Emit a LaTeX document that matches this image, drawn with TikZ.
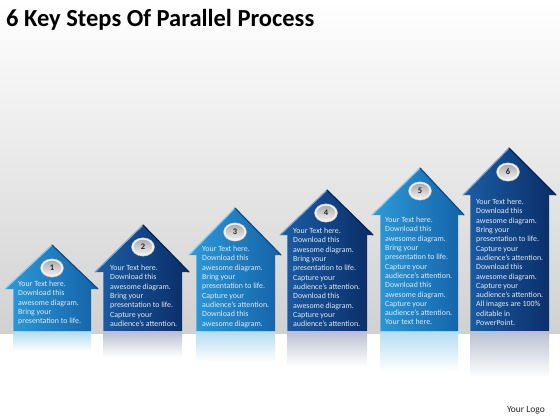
\documentclass[tikz,border=0pt]{standalone}
\usepackage{fontspec}
\setmainfont{Carlito}
\definecolor{lightL}{HTML}{2E9AD8}
\definecolor{lightR}{HTML}{1462A8}
\definecolor{darkL}{HTML}{1C5EA6}
\definecolor{darkR}{HTML}{0A2C66}
\definecolor{txt}{HTML}{E0EAF6}
\definecolor{reflL}{HTML}{B5DDF2}
\definecolor{reflD}{HTML}{BAC1D2}
\tikzset{
  bodytext/.style={anchor=north west, inner sep=0pt, align=left, text=txt, font=\fontsize{7.9}{9.3}\selectfont},
  numtext/.style={font=\bfseries\fontsize{8.5}{8.5}\selectfont, text=black!85, inner sep=0pt},
  roofhi/.style={line width=1.2pt, line cap=round},
}
% bl br px py ey el er leftcolor rightcolor
\newcommand\myhouse[9]{%
  \shade[left color=#8, right color=#9] (#3,#4) -- (#7,#5) -- (#2,#5) -- (#2,331) -- (#1,331) -- (#1,#5) -- (#6,#5) -- cycle;
  \draw[roofhi, white!45!#8] (#6,#5) -- (#3,#4);
  \draw[roofhi, black!25!#9] (#3,#4) -- (#7,#5);
  \draw[line width=0.8pt, white!25!#8] (#1,#5) -- (#1,331);
}
\newcommand\mybutton[3]{%
  \fill[white!88!gray, draw=gray!55, line width=0.4pt] (#1,#2) ellipse (11.5 and 9.2);
  \shade[top color=gray!65, bottom color=gray!12] (#1,#2) ellipse (9.3 and 7.3);
  \node[numtext] (n#3) at (#1,#2) {#3};
}
\begin{document}
\begin{tikzpicture}[x=1pt,y=-1pt]
\useasboundingbox (0,0) rectangle (560,420);
% background
\fill[white] (0,0) rectangle (560,420);
\shade[top color=white, middle color=black!3, bottom color=black!18] (0,0) rectangle (560,333);

% reflections
\shade[top color=reflL, bottom color=white] (13,332) rectangle (91,351);
\shade[top color=reflD, bottom color=white] (103,332) rectangle (182,357);
\shade[top color=reflL, bottom color=white] (196,332) rectangle (275,362);
\shade[top color=reflD, bottom color=white] (287,332) rectangle (367,366);
\shade[top color=reflL, bottom color=white] (380,332) rectangle (458,371);
\shade[top color=reflD, bottom color=white] (470,332) rectangle (549,377);

% houses
\myhouse{13}{91}{52}{245}{289}{5}{98}{lightL}{lightR}
\myhouse{103}{182}{143}{225}{272}{95}{189}{darkL}{darkR}
\myhouse{196}{275}{235}{208}{255}{189}{281}{lightL}{lightR}
\myhouse{287}{367}{327}{190}{235}{280}{373}{darkL}{darkR}
\myhouse{380}{458}{420}{168}{215}{372}{464}{lightL}{lightR}
\myhouse{470}{549}{509}{148}{195}{463}{556}{darkL}{darkR}

% buttons
\mybutton{52}{268}{1}
\mybutton{143}{247}{2}
\mybutton{235}{232}{3}
\mybutton{326}{213}{4}
\mybutton{420}{191}{5}
\mybutton{508}{172}{6}

% texts
\node[bodytext] (t1) at (18,281) {Your Text here.\\Download this\\awesome diagram.\\Bring your\\presentation to life.};
\node[bodytext] (t2) at (110,265) {Your Text here.\\Download this\\awesome diagram.\\Bring your\\presentation to life.\\Capture your\\audience’s attention.};
\node[bodytext] (t3) at (202,246) {Your Text here.\\Download this\\awesome diagram.\\Bring your\\presentation to life.\\Capture your\\audience’s attention.\\Download this\\awesome diagram.};
\node[bodytext] (t4) at (293,228) {Your Text here.\\Download this\\awesome diagram.\\Bring your\\presentation to life.\\Capture your\\audience’s attention.\\Download this\\awesome diagram.\\Capture your\\audience’s attention.};
\node[bodytext] (t5) at (385,217) {Your Text here.\\Download this\\awesome diagram.\\Bring your\\presentation to life.\\Capture your\\audience’s attention.\\Download this\\awesome diagram.\\Capture your\\audience’s attention.\\Your text here.};
\node[bodytext] (t6) at (476,199) {Your Text here.\\Download this\\awesome diagram.\\Bring your\\presentation to life.\\Capture your\\audience’s attention.\\Download this\\awesome diagram.\\Capture your\\audience’s attention.\\All images are 100\%\\editable in\\PowerPoint.};

% title and logo
\node[anchor=base west, inner sep=0pt, font=\bfseries\fontsize{24.5}{28}\selectfont] (title) at (6,27) {6 Key Steps Of Parallel Process};
\node[anchor=east, inner sep=0pt, font=\fontsize{9.5}{11}\selectfont, text=black!85] (logo) at (545,410) {Your Logo};
\end{tikzpicture}
\end{document}
